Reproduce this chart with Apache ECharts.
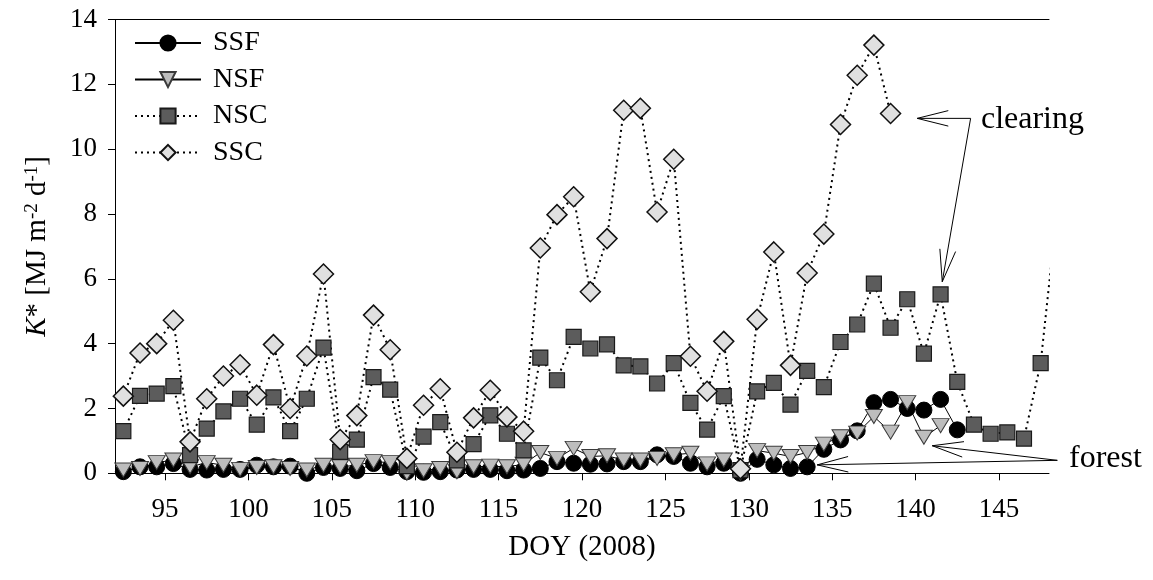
<!DOCTYPE html>
<html><head><meta charset="utf-8">
<script src="https://cdn.jsdelivr.net/npm/echarts@6/dist/echarts.min.js"></script>
<style>html,body{margin:0;padding:0;background:#fff;} #c{width:1153px;height:580px;}</style>
</head><body><div id="c"></div>
<script>
// ---- data ----
const days = [92.5, 93.5, 94.5, 95.5, 96.5, 97.5, 98.5, 99.5, 100.5, 101.5, 102.5, 103.5, 104.5, 105.5, 106.5,
  107.5, 108.5, 109.5, 110.5, 111.5, 112.5, 113.5, 114.5, 115.5, 116.5, 117.5, 118.5, 119.5, 120.5, 121.5,
  122.5, 123.5, 124.5, 125.5, 126.5, 127.5, 128.5, 129.5, 130.5, 131.5, 132.5, 133.5, 134.5, 135.5, 136.5,
  137.5, 138.5, 139.5, 140.5, 141.5, 142.5, 143.5, 144.5, 145.5, 146.5, 147.5, 148.5];
const xTicks = [95, 100, 105, 110, 115, 120, 125, 130, 135, 140, 145];
const yTicks = [0, 2, 4, 6, 8, 10, 12, 14];
const seriesNames = ['SSF', 'NSF', 'NSC', 'SSC'];
const ssf = [0.05, 0.2, 0.2, 0.3, 0.12, 0.1, 0.12, 0.12, 0.25, 0.2, 0.22, 0.0, 0.18, 0.15, 0.08,
  0.3, 0.18, 0.05, 0.03, 0.05, 0.1, 0.12, 0.12, 0.08, 0.1, 0.15, 0.36, 0.31, 0.28, 0.29,
  0.36, 0.36, 0.57, 0.52, 0.31, 0.2, 0.31, 0.0, 0.43, 0.26, 0.15, 0.2, 0.74, 1.03, 1.31,
  2.18, 2.28, 2.0, 1.95, 2.28, 1.34];
const nsf = [0.1, 0.15, 0.33, 0.41, 0.2, 0.33, 0.25, 0.12, 0.18, 0.2, 0.15, 0.1, 0.25, 0.2, 0.25,
  0.36, 0.33, 0.0, 0.08, 0.15, 0.05, 0.2, 0.22, 0.2, 0.28, 0.64, 0.46, 0.77, 0.52, 0.54,
  0.41, 0.41, 0.46, 0.57, 0.62, 0.29, 0.41, 0.0, 0.7, 0.62, 0.52, 0.64, 0.9, 1.13, 1.24,
  1.75, 1.27, 2.18, 1.11, 1.47];
const nsc = [1.3, 2.39, 2.46, 2.69, 0.56, 1.38, 1.91, 2.3, 1.5, 2.34, 1.3, 2.3, 3.88, 0.66, 1.04,
  2.97, 2.58, 0.22, 1.13, 1.58, 0.4, 0.9, 1.79, 1.22, 0.71, 3.57, 2.87, 4.21, 3.85, 3.98,
  3.33, 3.3, 2.77, 3.4, 2.17, 1.35, 2.38, 0.1, 2.53, 2.79, 2.12, 3.16, 2.66, 4.05, 4.59,
  5.85, 4.49, 5.37, 3.69, 5.52, 2.82, 1.5, 1.22, 1.26, 1.07, 3.4, 8.2];
const ssc = [2.38, 3.71, 4.0, 4.72, 0.97, 2.3, 3.0, 3.35, 2.41, 3.97, 2.0, 3.62, 6.15, 1.04, 1.78,
  4.88, 3.81, 0.46, 2.1, 2.61, 0.65, 1.71, 2.56, 1.74, 1.3, 6.95, 7.98, 8.53, 5.6, 7.24,
  11.2, 11.26, 8.06, 9.69, 3.61, 2.53, 4.07, 0.14, 4.75, 6.83, 3.33, 6.18, 7.38, 10.76, 12.28,
  13.21, 11.1];
// annotation anchors (data coordinates)
const clearingPath = [[140.1, 10.95], [143.3, 10.95], [141.6, 5.91]];
const clearingText = [143.92, 10.9];
const forestTail = [148.5, 0.4];
const forestTips = [[134.1, 0.26], [141.0, 0.85]];
const forestText = [149.2, 0.45];

const FONT = "'Liberation Serif', 'Times New Roman', serif";
const pairs = vals => vals.map((v, i) => [days[i], v]);

const chart = echarts.init(document.getElementById('c'), null, {renderer: 'canvas'});
const dotted = {color: '#000', width: 2, type: [2, 4]};
chart.setOption({
  animation: false,
  backgroundColor: '#fff',
  grid: {left: 115, right: 104, top: 19.5, bottom: 106.7, containLabel: false},
  legend: {
    data: seriesNames, orient: 'vertical', left: 134, top: 29, padding: 0,
    itemWidth: 66, itemHeight: 19, itemGap: 8.5,
    textStyle: {fontFamily: FONT, fontSize: 28, lineHeight: 27, color: '#000', padding: [0, 0, 0, 7]}
  },
  xAxis: [{
    type: 'value', min: 92, max: 148,
    axisLine: {show: true, lineStyle: {color: '#000', width: 1}},
    axisTick: {show: true, inside: false, length: 7, customValues: xTicks, lineStyle: {color: '#000'}},
    axisLabel: {customValues: xTicks, fontFamily: FONT, fontSize: 27, color: '#000', margin: 23},
    splitLine: {show: false},
    name: 'DOY (2008)', nameLocation: 'middle', nameGap: 60,
    nameTextStyle: {fontFamily: FONT, fontSize: 29, color: '#000'}
  }, {
    type: 'value', min: 92, max: 148, position: 'top',
    axisLine: {show: true, lineStyle: {color: '#000', width: 1}},
    axisTick: {show: false}, axisLabel: {show: false}, splitLine: {show: false}
  }],
  yAxis: {
    type: 'value', min: yTicks[0], max: yTicks[yTicks.length - 1], interval: 2,
    axisLine: {show: true, lineStyle: {color: '#000', width: 1}},
    axisTick: {show: true, inside: false, length: 7, lineStyle: {color: '#000'}},
    axisLabel: {fontFamily: FONT, fontSize: 27, color: '#000', margin: 18},
    splitLine: {show: false},
    name: '{i|K}{n|* [MJ m}{s|-2}{n| d}{s|-1}{n|]}',
    nameLocation: 'middle', nameRotate: 90, nameGap: 63,
    nameTextStyle: {
      fontFamily: FONT, fontSize: 29, color: '#000',
      rich: {
        i: {fontFamily: FONT, fontSize: 29, fontStyle: 'italic', color: '#000', lineHeight: 29, padding: [6, 0, 0, 0], verticalAlign: 'bottom'},
        n: {fontFamily: FONT, fontSize: 29, color: '#000', lineHeight: 29, padding: [6, 0, 0, 0], verticalAlign: 'bottom'},
        s: {fontFamily: FONT, fontSize: 19, color: '#000', lineHeight: 19, verticalAlign: 'top'}
      }
    }
  },
  series: [
    {name: 'SSF', type: 'line', data: pairs(ssf), symbol: 'circle', symbolSize: 16, showAllSymbol: true,
     itemStyle: {color: '#000', borderColor: '#000', borderWidth: 1}, lineStyle: {color: '#000', width: 1}},
    {name: 'NSF', type: 'line', data: pairs(nsf), symbol: 'triangle', symbolRotate: 180, symbolSize: [17, 14], showAllSymbol: true,
     itemStyle: {color: '#bdbdbd', borderColor: '#3a3a3a', borderWidth: 1}, lineStyle: {color: '#000', width: 1}},
    {name: 'NSC', type: 'line', data: pairs(nsc), symbol: 'rect', symbolSize: 15, showAllSymbol: true,
     itemStyle: {color: '#5c5c5c', borderColor: '#1a1a1a', borderWidth: 1.2}, lineStyle: dotted},
    {name: 'SSC', type: 'line', data: pairs(ssc), symbol: 'diamond', symbolSize: 20, showAllSymbol: true,
     itemStyle: {color: '#e0e0e0', borderColor: '#111', borderWidth: 1.5}, lineStyle: dotted}
  ]
});

// ---- annotations ----
const toPx = p => chart.convertToPixel({xAxisIndex: 0, yAxisIndex: 0}, p);
function head(tip, tail, len, ang) {
  const dx = tail[0] - tip[0], dy = tail[1] - tip[1];
  const L = Math.hypot(dx, dy), ux = dx / L, uy = dy / L;
  const a = ang * Math.PI / 180;
  const r = (c, s) => [tip[0] + len * (ux * c - uy * s), tip[1] + len * (ux * s + uy * c)];
  return [r(Math.cos(a), Math.sin(a)), tip, r(Math.cos(a), -Math.sin(a))];
}
const ls = {stroke: '#000', lineWidth: 1, fill: null};
const els = [];
const cp = clearingPath.map(toPx);
els.push({type: 'polyline', shape: {points: cp}, style: ls, silent: true});
els.push({type: 'polyline', shape: {points: head(cp[0], cp[1], 32, 14)}, style: ls, silent: true});
els.push({type: 'polyline', shape: {points: head(cp[2], cp[1], 33, 14)}, style: ls, silent: true});
const ft = toPx(forestTail);
forestTips.forEach(t => {
  const tp = toPx(t);
  els.push({type: 'polyline', shape: {points: [ft, tp]}, style: ls, silent: true});
  els.push({type: 'polyline', shape: {points: head(tp, ft, 32, 14)}, style: ls, silent: true});
});
const ct = toPx(clearingText), fx = toPx(forestText);
els.push({type: 'text', x: ct[0], y: ct[1], style: {text: 'clearing', font: '32px ' + FONT, fill: '#000', align: 'left', verticalAlign: 'middle'}, silent: true});
els.push({type: 'text', x: fx[0], y: fx[1], style: {text: 'forest', font: '32px ' + FONT, fill: '#000', align: 'left', verticalAlign: 'middle'}, silent: true});
chart.setOption({graphic: els});
</script>
</body></html>
